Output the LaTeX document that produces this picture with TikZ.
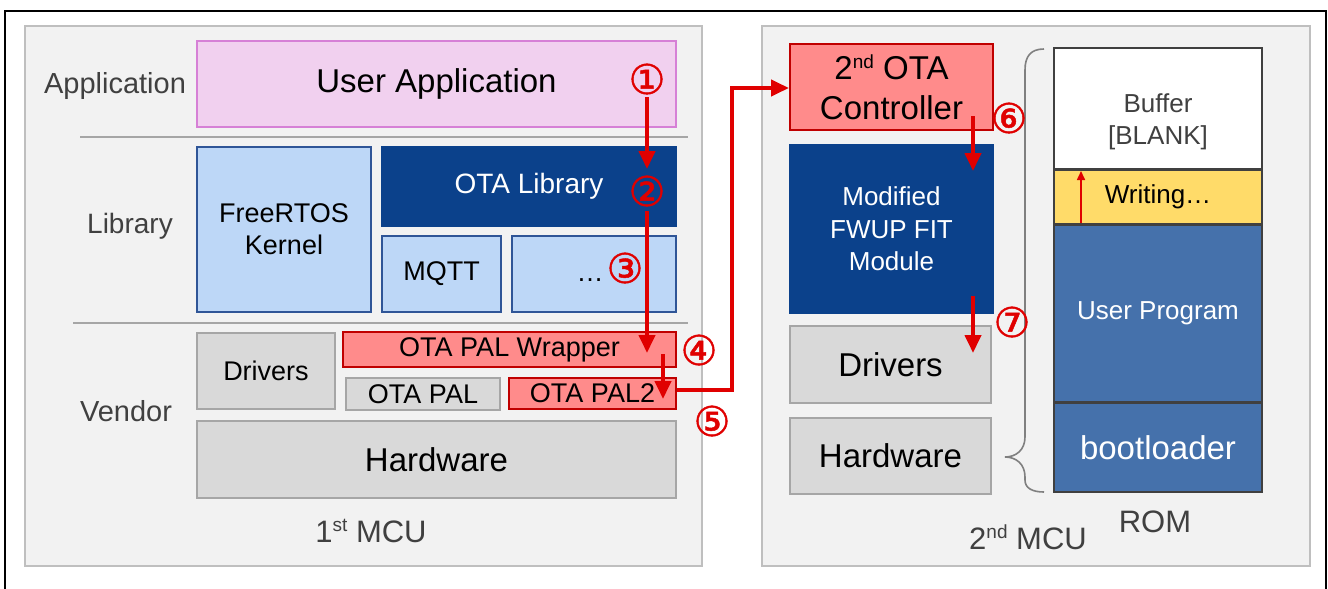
\documentclass[tikz,border=0pt]{standalone}
\usepackage{fontspec}
\setmainfont{Liberation Sans}
\newfontface\circfont[FakeBold=1.2]{DejaVu Sans}
\usetikzlibrary{arrows.meta}
\definecolor{panelfill}{HTML}{F2F2F2}
\definecolor{paneldraw}{HTML}{BFBFBF}
\definecolor{sepgray}{HTML}{A6A6A6}
\definecolor{labgray}{HTML}{404040}
\definecolor{pinkfill}{HTML}{F1D0EF}
\definecolor{pinkdraw}{HTML}{D680D6}
\definecolor{lbfill}{HTML}{BDD7F7}
\definecolor{lbdraw}{HTML}{2F5597}
\definecolor{dbfill}{HTML}{0B418B}
\definecolor{gfill}{HTML}{D9D9D9}
\definecolor{gdraw}{HTML}{A6A6A6}
\definecolor{rfill}{HTML}{FF8B8B}
\definecolor{rdraw}{HTML}{C00000}
\definecolor{yfill}{HTML}{FFDB69}
\definecolor{sbfill}{HTML}{4571AB}
\definecolor{romdraw}{HTML}{404040}
\definecolor{arrred}{HTML}{E00000}
\newcommand\fsL{\fontsize{33}{40}\selectfont}
\newcommand\fsM{\fontsize{27}{32}\selectfont}
\newcommand\supsc[1]{{\fontsize{19}{19}\selectfont\raisebox{11pt}{#1}}}
\tikzset{
  box/.style={draw, line width=2pt, inner sep=0pt, align=center},
  pinkbox/.style={box, fill=pinkfill, draw=pinkdraw},
  lbbox/.style={box, fill=lbfill, draw=lbdraw, text=black},
  dbbox/.style={box, fill=dbfill, draw=dbfill, text=white},
  gbox/.style={box, fill=gfill, draw=gdraw, text=black},
  rbox/.style={box, fill=rfill, draw=rdraw, text=black},
  rombox/.style={box, draw=romdraw, minimum width=208pt},
  panel/.style={fill=panelfill, draw=paneldraw, line width=2pt},
  sep/.style={draw=sepgray, line width=2pt},
  lab/.style={text=labgray, inner sep=0pt},
  circnum/.style={text=arrred, inner sep=0pt, font=\circfont\fontsize{41}{41}\selectfont},
  redarrow/.style={draw=arrred, line width=4pt, -{Triangle[length=18pt,width=16pt]}},
  thinarrow/.style={draw=arrred, line width=1.6pt, -{Triangle[length=9pt,width=8pt]}},
}
\begin{document}
\begin{tikzpicture}[x=1pt,y=-1pt]
\useasboundingbox (0,0) rectangle (1328,589);
\clip (0,0) rectangle (1328,589);
\fill[white] (0,0) rectangle (1328,589);
\draw[black, line width=2pt] (5,11) rectangle (1326,640);
% panels
\draw[panel] (25,26) rectangle (702,566);
\draw[panel] (762,26) rectangle (1310,566);
% separators
\draw[sep] (80,137) -- (688,137);
\draw[sep] (73,323) -- (688,323);
% layer labels
\node[lab, font=\fontsize{29}{32}\selectfont] (lapp) at (115,86) {Application};
\node[lab, font=\fontsize{28}{32}\selectfont] (llib) at (130,226) {Library};
\node[lab, font=\fontsize{29}{32}\selectfont] (lven) at (126,411) {Vendor};
\node[lab, font=\fontsize{31}{35}\selectfont] (mcu1) at (371,531) {1\supsc{st} MCU};
\node[lab, font=\fontsize{31}{35}\selectfont] (mcu2) at (1028,537) {2\supsc{nd} MCU};
\node[lab, font=\fontsize{31}{35}\selectfont] (rom) at (1155,522) {ROM};
% 1st MCU boxes
\node[pinkbox, minimum width=479pt, minimum height=86pt, font=\fsL] (uapp) at (436.5,84) {User Application};
\node[lbbox, minimum width=174pt, minimum height=165pt, font=\fontsize{27}{32}\selectfont] (rtos) at (284,229.5) {FreeRTOS\\Kernel};
\node[dbbox, minimum width=294pt, minimum height=79pt, font=\fontsize{28}{32}\selectfont] (otalib) at (529,186.5) {OTA Library};
\node[lbbox, minimum width=119pt, minimum height=76pt, font=\fsM] (mqtt) at (441.5,274) {MQTT};
\node[lbbox, minimum width=164pt, minimum height=76pt] (dots) at (594,274) {};
\node[inner sep=0pt, font=\fsM] (dotstxt) at (590,280) {\dots};
\node[gbox, minimum width=138pt, minimum height=76pt, font=\fsM] (drv1) at (266,371) {Drivers};
\node[rbox, minimum width=333pt, minimum height=35pt, font=\fsM] (palw) at (509.5,349.5) {OTA PAL Wrapper};
\node[gbox, minimum width=154pt, minimum height=32pt, font=\fsM] (pal) at (423,394) {OTA PAL};
\node[rbox, minimum width=167pt, minimum height=31pt, font=\fsM] (pal2) at (592.5,393.5) {OTA PAL2};
\node[gbox, minimum width=479pt, minimum height=77pt, font=\fsL] (hw1) at (436.5,459.5) {Hardware};
% 2nd MCU boxes
\node[rbox, minimum width=203pt, minimum height=86pt, font=\fontsize{33}{40}\selectfont] (ctrl) at (891.5,87) {2\supsc{nd} OTA\\Controller};
\node[dbbox, minimum width=203pt, minimum height=168pt, font=\fontsize{26}{32.5}\selectfont] (fwup) at (891.5,229) {Modified\\FWUP FIT\\Module};
\node[gbox, minimum width=201pt, minimum height=77pt, font=\fsL] (drv2) at (890.5,364.5) {Drivers};
\node[gbox, minimum width=201pt, minimum height=76pt, font=\fsL] (hw2) at (890.5,456) {Hardware};
% ROM
\node[rombox, fill=white, minimum height=121pt] (buf) at (1158,108.5) {};
\node[lab, align=center, font=\fontsize{26}{32}\selectfont] (buftxt) at (1158,122) {Buffer\\{[BLANK]}};
\node[rombox, fill=yfill, minimum height=54pt, font=\fontsize{26}{30}\selectfont] (wr) at (1158,197) {Writing\dots};
\node[rombox, fill=sbfill, text=white, minimum height=177pt, font=\fontsize{26}{30}\selectfont] (uprog) at (1158,313.5) {User Program};
\node[rombox, fill=sbfill, text=white, minimum height=89pt, font=\fontsize{33}{36}\selectfont] (boot) at (1158,447.5) {bootloader};
% brace
\draw[draw=gray, line width=1.6pt]
  (1044,49) .. controls (1031,49) and (1025,56) .. (1025,70)
  -- (1025,437) .. controls (1025,450) and (1016,457) .. (1005,457)
  .. controls (1016,457) and (1025,464) .. (1025,477)
  -- (1025,480) .. controls (1025,488) and (1032,492) .. (1044,492);
% circled numbers
\node[circnum] (n1) at (647,79) {①};
\node[circnum] (n2) at (647,191) {②};
\node[circnum] (n3) at (625,268) {③};
\node[circnum] (n4) at (699,350) {④};
\node[circnum] (n5) at (712,421) {⑤};
\node[circnum] (n6) at (1009,118) {⑥};
\node[circnum] (n7) at (1012,322) {⑦};
% arrow coordinates
\coordinate (s1) at (647,97);
\coordinate (t1) at (647,169);
\coordinate (s2) at (647,211);
\coordinate (t2) at (647,353);
\coordinate (s3) at (663,354);
\coordinate (t3) at (663,399);
\coordinate (s6) at (973,116);
\coordinate (t6) at (973,171);
\coordinate (s7) at (973,296);
\coordinate (t7) at (973,353);
\coordinate (sw) at (1081,223);
\coordinate (tw) at (1081,171);
% arrows
\draw[redarrow] (s1) -- (t1);
\draw[redarrow] (s2) -- (t2);
\draw[redarrow] (s3) -- (t3);
\draw[redarrow, line join=miter] (pal2.east |- 0,390) -- (732,390) -- (732,88) -- (ctrl.west |- 0,88);
\draw[redarrow] (s6) -- (t6);
\draw[redarrow] (s7) -- (t7);
\draw[thinarrow] (sw) -- (tw);
\end{tikzpicture}
\end{document}
